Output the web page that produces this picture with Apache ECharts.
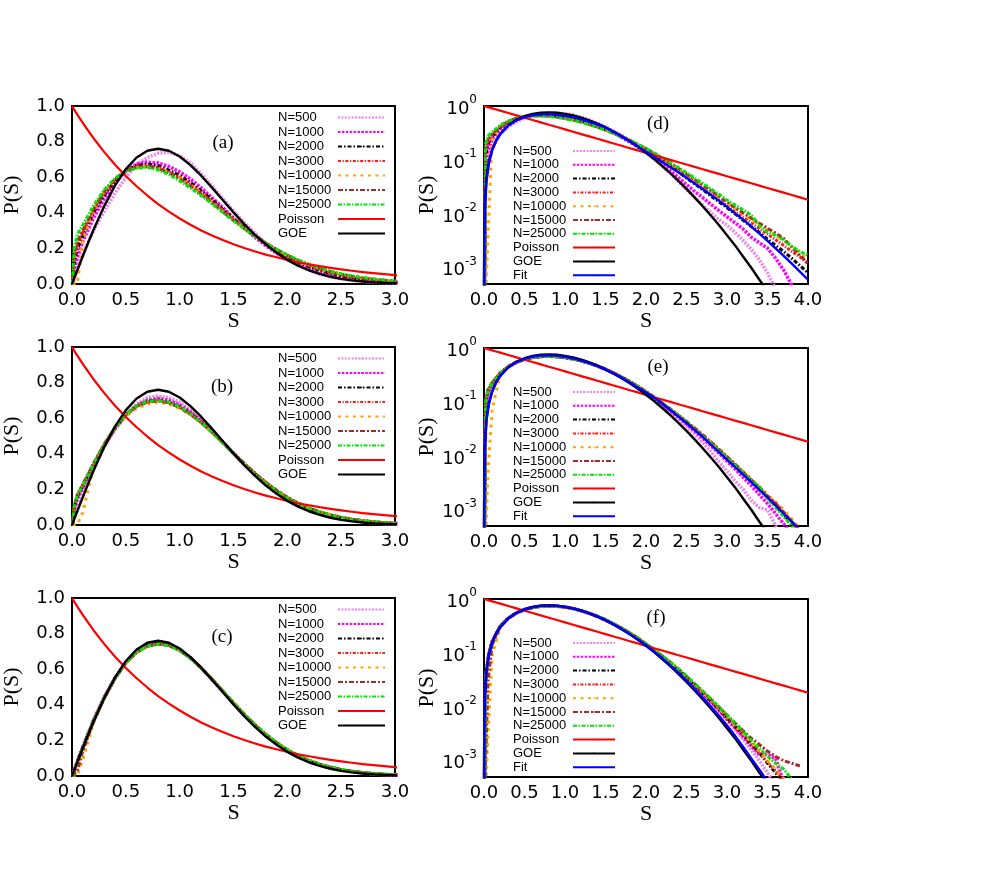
<!DOCTYPE html>
<html>
<head>
<meta charset="utf-8">
<script src="https://cdn.jsdelivr.net/npm/echarts@6/dist/echarts.min.js"></script>
<style>
html,body{margin:0;padding:0;background:#fff;}
#chart{width:997px;height:872px;}
</style>
</head>
<body>
<div id="chart"></div>
<script>
// ---------- data ----------
const NAMES = ['N=500','N=1000','N=2000','N=3000','N=10000','N=15000','N=25000'];
const X_TICKS_LIN = [0, 0.5, 1.0, 1.5, 2.0, 2.5, 3.0];
const Y_TICKS_LIN = [0, 0.2, 0.4, 0.6, 0.8, 1.0];
const Y_TICKS_LOG = [1e-3, 1e-2, 1e-1, 1];

// spacing grid of the measured histograms
const S = [0.005, 0.02, 0.05, 0.1, 0.2, 0.3, 0.4, 0.5, 0.6, 0.7, 0.8, 0.9, 1.0, 1.1, 1.2, 1.3, 1.4, 1.5, 1.6, 1.7, 1.8, 1.9, 2.0, 2.1, 2.2, 2.3, 2.4, 2.5, 2.6, 2.7, 2.8, 2.9, 3.0, 3.1, 3.2, 3.3, 3.4, 3.5, 3.6, 3.7, 3.8, 3.9, 4.0];

// row 1: panels (a) and (d)
const R1_N500   = [0.0002, 0.03, 0.08, 0.17, 0.30, 0.41, 0.51, 0.60, 0.67, 0.71, 0.735, 0.74, 0.72, 0.68, 0.62, 0.55, 0.48, 0.41, 0.345, 0.285, 0.23, 0.18, 0.14, 0.105, 0.078, 0.056, 0.04, 0.028, 0.02, 0.0145, 0.0105, 0.0078, 0.0062, 0.0045, 0.0032, 0.0022, 0.0014, 0.0008, 0.0004, null, null, null, null];
const R1_N1000  = [0.0002, 0.08, 0.15, 0.24, 0.37, 0.48, 0.57, 0.635, 0.675, 0.685, 0.68, 0.66, 0.63, 0.59, 0.54, 0.485, 0.43, 0.37, 0.315, 0.262, 0.215, 0.174, 0.138, 0.108, 0.083, 0.063, 0.047, 0.035, 0.026, 0.02, 0.015, 0.0115, 0.0088, 0.0068, 0.0052, 0.0037, 0.0029, 0.0023, 0.0015, 0.0009, 0.00048, 0.0002, null];
const R1_N2000  = [0.0002, 0.12, 0.2, 0.27, 0.40, 0.50, 0.58, 0.635, 0.665, 0.675, 0.665, 0.64, 0.61, 0.57, 0.525, 0.475, 0.42, 0.368, 0.318, 0.27, 0.226, 0.187, 0.153, 0.123, 0.098, 0.077, 0.06, 0.046, 0.036, 0.028, 0.0215, 0.0168, 0.013, 0.01, 0.0076, 0.0058, 0.0045, 0.0034, 0.0026, 0.002, 0.0015, 0.0011, 0.0008];
const R1_N3000  = [0.0002, 0.15, 0.22, 0.29, 0.41, 0.51, 0.585, 0.635, 0.66, 0.665, 0.655, 0.63, 0.6, 0.56, 0.515, 0.467, 0.415, 0.365, 0.317, 0.272, 0.23, 0.192, 0.158, 0.128, 0.103, 0.082, 0.064, 0.05, 0.039, 0.03, 0.0235, 0.0182, 0.0142, 0.011, 0.0086, 0.0068, 0.0053, 0.0042, 0.0033, 0.0026, 0.002, 0.0016, 0.0012];
const R1_N10000 = [0.0002, 0.0003, 0.004, 0.24, 0.42, 0.52, 0.59, 0.635, 0.655, 0.66, 0.65, 0.625, 0.595, 0.555, 0.51, 0.46, 0.41, 0.36, 0.314, 0.27, 0.23, 0.193, 0.16, 0.131, 0.106, 0.085, 0.067, 0.053, 0.042, 0.033, 0.026, 0.0205, 0.016, 0.0125, 0.0098, 0.0078, 0.0062, 0.005, 0.004, 0.0032, 0.0025, 0.0019, 0.0014];
const R1_N15000 = [0.0002, 0.17, 0.24, 0.3, 0.42, 0.52, 0.59, 0.635, 0.655, 0.66, 0.65, 0.625, 0.59, 0.55, 0.505, 0.456, 0.407, 0.358, 0.312, 0.269, 0.23, 0.194, 0.162, 0.133, 0.108, 0.087, 0.069, 0.055, 0.043, 0.034, 0.027, 0.021, 0.0165, 0.013, 0.0104, 0.0083, 0.0067, 0.0054, 0.0044, 0.0035, 0.0024, 0.0017, 0.0012];
const R1_N25000 = [0.0002, 0.2, 0.28, 0.33, 0.44, 0.53, 0.595, 0.635, 0.65, 0.655, 0.64, 0.615, 0.58, 0.54, 0.497, 0.45, 0.402, 0.355, 0.31, 0.268, 0.23, 0.195, 0.164, 0.136, 0.111, 0.09, 0.072, 0.058, 0.046, 0.037, 0.029, 0.023, 0.018, 0.0145, 0.0118, 0.0095, 0.006, 0.0046, 0.004, 0.0033, 0.0025, 0.002, 0.0017];

// row 2: panels (b) and (e)
const R2_N500   = [0.0002, 0.06, 0.12, 0.19, 0.32, 0.44, 0.54, 0.62, 0.68, 0.715, 0.725, 0.715, 0.69, 0.645, 0.59, 0.53, 0.465, 0.4, 0.338, 0.28, 0.228, 0.182, 0.143, 0.111, 0.085, 0.064, 0.048, 0.035, 0.0255, 0.0175, 0.012, 0.0078, 0.0052, 0.0034, 0.0024, 0.0015, 0.0011, 0.001, 0.0005, 0.0002, null, null, null];
const R2_N1000  = [0.0002, 0.08, 0.15, 0.21, 0.335, 0.445, 0.54, 0.615, 0.67, 0.7, 0.71, 0.7, 0.675, 0.635, 0.585, 0.527, 0.465, 0.402, 0.342, 0.285, 0.234, 0.188, 0.149, 0.117, 0.09, 0.069, 0.052, 0.039, 0.029, 0.0213, 0.0155, 0.0112, 0.008, 0.0057, 0.004, 0.0028, 0.0019, 0.0013, 0.00085, 0.00055, 0.00035, null, null];
const R2_N2000  = [0.0002, 0.1, 0.16, 0.22, 0.34, 0.45, 0.545, 0.62, 0.668, 0.695, 0.703, 0.69, 0.665, 0.627, 0.578, 0.523, 0.463, 0.402, 0.343, 0.287, 0.236, 0.191, 0.152, 0.12, 0.093, 0.072, 0.055, 0.0415, 0.031, 0.023, 0.017, 0.0125, 0.009, 0.0065, 0.0047, 0.0034, 0.0024, 0.0017, 0.0012, 0.0008, 0.00055, 0.00035, null];
const R2_N3000  = [0.0002, 0.11, 0.17, 0.23, 0.345, 0.455, 0.548, 0.62, 0.667, 0.692, 0.7, 0.688, 0.662, 0.624, 0.576, 0.522, 0.463, 0.403, 0.345, 0.29, 0.239, 0.194, 0.155, 0.122, 0.095, 0.073, 0.056, 0.0425, 0.032, 0.0238, 0.0176, 0.013, 0.0094, 0.0068, 0.0049, 0.0035, 0.0025, 0.0018, 0.0013, 0.0009, 0.0006, 0.0004, null];
const R2_N10000 = [0.0002, 0.0003, 0.005, 0.07, 0.33, 0.45, 0.54, 0.61, 0.655, 0.68, 0.69, 0.68, 0.655, 0.62, 0.573, 0.52, 0.462, 0.403, 0.346, 0.291, 0.24, 0.196, 0.157, 0.124, 0.097, 0.075, 0.058, 0.044, 0.033, 0.0246, 0.0182, 0.0135, 0.0098, 0.0071, 0.0051, 0.0037, 0.0027, 0.0019, 0.0014, 0.001, 0.00068, 0.00045, null];
const R2_N15000 = [0.0002, 0.1, 0.17, 0.225, 0.345, 0.455, 0.548, 0.62, 0.666, 0.69, 0.697, 0.686, 0.66, 0.622, 0.575, 0.522, 0.464, 0.404, 0.346, 0.291, 0.24, 0.195, 0.156, 0.123, 0.096, 0.074, 0.057, 0.0435, 0.0328, 0.0245, 0.0181, 0.0133, 0.0097, 0.007, 0.005, 0.0036, 0.0026, 0.0018, 0.0013, 0.0009, 0.0006, 0.0004, null];
const R2_N25000 = [0.0002, 0.1, 0.17, 0.22, 0.34, 0.45, 0.545, 0.62, 0.67, 0.695, 0.7, 0.69, 0.665, 0.625, 0.575, 0.52, 0.46, 0.4, 0.34, 0.285, 0.235, 0.19, 0.152, 0.12, 0.094, 0.073, 0.056, 0.043, 0.031, 0.0232, 0.0172, 0.0127, 0.0092, 0.0067, 0.0049, 0.0035, 0.0027, 0.0016, 0.0011, 0.00075, 0.0005, 0.0003, null];

// row 3: panels (c) and (f)
const R3_N500   = [0.0002, 0.035, 0.085, 0.165, 0.315, 0.445, 0.553, 0.64, 0.70, 0.733, 0.745, 0.738, 0.71, 0.666, 0.608, 0.543, 0.475, 0.407, 0.342, 0.282, 0.228, 0.181, 0.141, 0.108, 0.082, 0.061, 0.045, 0.0328, 0.0236, 0.0167, 0.0117, 0.0081, 0.0056, 0.0038, 0.0025, 0.0016, 0.001, 0.0006, 0.00035, null, null, null, null];
const R3_N1000  = [0.0002, 0.03, 0.08, 0.16, 0.31, 0.44, 0.55, 0.638, 0.698, 0.732, 0.745, 0.737, 0.708, 0.664, 0.607, 0.543, 0.475, 0.408, 0.343, 0.283, 0.23, 0.183, 0.143, 0.11, 0.084, 0.063, 0.047, 0.0343, 0.0248, 0.0177, 0.0125, 0.0087, 0.006, 0.0041, 0.0028, 0.0019, 0.0013, 0.0013, 0.0011, 0.0004, null, null, null];
const R3_N2000  = [0.0002, 0.03, 0.082, 0.162, 0.312, 0.442, 0.551, 0.638, 0.697, 0.731, 0.744, 0.736, 0.708, 0.664, 0.607, 0.543, 0.476, 0.409, 0.344, 0.284, 0.231, 0.184, 0.144, 0.111, 0.085, 0.064, 0.0475, 0.0348, 0.0252, 0.018, 0.0128, 0.009, 0.0062, 0.0043, 0.003, 0.002, 0.0014, 0.0009, 0.0006, 0.0004, null, null, null];
const R3_N3000  = [0.0002, 0.03, 0.08, 0.16, 0.31, 0.44, 0.55, 0.637, 0.696, 0.73, 0.742, 0.734, 0.706, 0.663, 0.607, 0.544, 0.477, 0.41, 0.345, 0.285, 0.232, 0.185, 0.145, 0.112, 0.086, 0.065, 0.048, 0.0352, 0.0255, 0.0183, 0.013, 0.0092, 0.0064, 0.0044, 0.0031, 0.0021, 0.0014, 0.00095, 0.00065, 0.00042, null, null, null];
const R3_N10000 = [0.0002, 0.0003, 0.003, 0.09, 0.3, 0.435, 0.548, 0.636, 0.695, 0.729, 0.741, 0.733, 0.705, 0.662, 0.606, 0.544, 0.477, 0.411, 0.346, 0.287, 0.234, 0.187, 0.147, 0.114, 0.087, 0.066, 0.049, 0.036, 0.026, 0.0188, 0.0134, 0.0095, 0.0066, 0.0046, 0.0032, 0.0022, 0.0015, 0.001, 0.0007, 0.00047, 0.0003, null, null];
const R3_N15000 = [0.0002, 0.001, 0.03, 0.14, 0.305, 0.438, 0.549, 0.636, 0.695, 0.729, 0.741, 0.733, 0.705, 0.662, 0.606, 0.544, 0.478, 0.412, 0.347, 0.288, 0.235, 0.188, 0.148, 0.115, 0.088, 0.067, 0.05, 0.0368, 0.0268, 0.0194, 0.0139, 0.0099, 0.007, 0.005, 0.0036, 0.0026, 0.002, 0.0015, 0.0012, 0.001, 0.0009, 0.0008, null];
const R3_N25000 = [0.0002, 0.03, 0.08, 0.16, 0.31, 0.44, 0.55, 0.636, 0.695, 0.729, 0.741, 0.733, 0.705, 0.662, 0.607, 0.545, 0.479, 0.413, 0.348, 0.289, 0.236, 0.189, 0.149, 0.116, 0.089, 0.068, 0.051, 0.0375, 0.0273, 0.0197, 0.0141, 0.01, 0.0071, 0.005, 0.0035, 0.0024, 0.0017, 0.0012, 0.0009, 0.0007, 0.00045, null, null];

// smooth reference curves (Poisson, GOE, fit)
const T_S = [0.0003, 0.003, 0.01, 0.03, 0.06, 0.1, 0.15, 0.2, 0.3, 0.4, 0.5, 0.6, 0.7, 0.8, 0.9, 1.0, 1.1, 1.2, 1.3, 1.4, 1.5, 1.6, 1.7, 1.8, 1.9, 2.0, 2.1, 2.2, 2.3, 2.4, 2.5, 2.6, 2.7, 2.8, 2.9, 3.0, 3.1, 3.2, 3.3, 3.4, 3.5, 3.6, 3.7, 3.8, 3.9, 4.0];
const POISSON = [1.0, 0.997, 0.99, 0.97, 0.942, 0.905, 0.861, 0.819, 0.741, 0.670, 0.607, 0.549, 0.497, 0.449, 0.407, 0.368, 0.333, 0.301, 0.273, 0.247, 0.223, 0.202, 0.183, 0.165, 0.150, 0.135, 0.122, 0.111, 0.100, 0.0907, 0.0821, 0.0743, 0.0672, 0.0608, 0.055, 0.0498, 0.045, 0.0408, 0.0369, 0.0334, 0.0302, 0.0273, 0.0247, 0.0224, 0.0202, 0.0183];
const GOE = [0.00047, 0.0047, 0.0157, 0.0471, 0.094, 0.1559, 0.2315, 0.3045, 0.4391, 0.5541, 0.6454, 0.7105, 0.7484, 0.7601, 0.7483, 0.7161, 0.668, 0.6083, 0.5416, 0.4717, 0.4024, 0.3365, 0.2759, 0.2219, 0.1753, 0.1358, 0.1034, 0.0772, 0.0567, 0.0409, 0.029, 0.0202, 0.0138, 0.0093, 0.0062, 0.004, 0.0026, 0.0016, 0.001, 0.0006, 0.00037, 0.00022, null, null, null, null];
const FIT_D = [0.0003, 0.003, 0.012, 0.04, 0.085, 0.15, 0.225, 0.3, 0.43, 0.54, 0.62, 0.675, 0.7, 0.7, 0.685, 0.655, 0.615, 0.565, 0.51, 0.455, 0.4, 0.331, 0.272, 0.221, 0.178, 0.141, 0.1135, 0.0912, 0.0733, 0.0589, 0.0468, 0.0367, 0.0288, 0.0226, 0.0176, 0.0135, 0.0102, 0.0078, 0.0058, 0.0043, 0.00316, 0.00229, 0.00166, 0.00119, 0.00085, 0.0006];
const FIT_E = [0.0003, 0.0035, 0.013, 0.045, 0.09, 0.155, 0.23, 0.305, 0.44, 0.55, 0.635, 0.695, 0.725, 0.73, 0.715, 0.685, 0.64, 0.585, 0.525, 0.463, 0.4, 0.339, 0.282, 0.229, 0.184, 0.151, 0.120, 0.0933, 0.0708, 0.0537, 0.0407, 0.0302, 0.0224, 0.0162, 0.0117, 0.0085, 0.00617, 0.00447, 0.00324, 0.00234, 0.0017, 0.0012, 0.00085, 0.0006, 0.00043, 0.0003];
const FIT_F = [0.0003, 0.0045, 0.015, 0.046, 0.092, 0.153, 0.228, 0.3, 0.435, 0.55, 0.642, 0.707, 0.745, 0.757, 0.746, 0.715, 0.668, 0.609, 0.543, 0.474, 0.405, 0.339, 0.279, 0.225, 0.178, 0.139, 0.106, 0.08, 0.059, 0.0428, 0.0306, 0.0215, 0.0149, 0.0101, 0.0068, 0.0045, 0.0029, 0.0018, 0.0011, 0.00068, 0.00041, 0.00024, null, null, null, null];

const ROWS = [
  [R1_N500, R1_N1000, R1_N2000, R1_N3000, R1_N10000, R1_N15000, R1_N25000],
  [R2_N500, R2_N1000, R2_N2000, R2_N3000, R2_N10000, R2_N15000, R2_N25000],
  [R3_N500, R3_N1000, R3_N2000, R3_N3000, R3_N10000, R3_N15000, R3_N25000]
];
const FITS = [FIT_D, FIT_E, FIT_F];
const PANEL_LABELS = [['(a)','(d)'],['(b)','(e)'],['(c)','(f)']];

// ---------- styles ----------
const DATA_STYLES = [
  {color:'#ee82ee', type:[2,1.4], width:3.5},
  {color:'#ff00ff', type:[2.5,1.4], width:3.5},
  {color:'#000000', type:[4,2,1.5,2], width:3},
  {color:'#ff1a1a', type:[3,1.6,1.2,1.6], width:3},
  {color:'#ffa500', type:[3,4.5], width:3},
  {color:'#a52a2a', type:[5,2,2,2], width:3},
  {color:'#00e600', type:[4,1.5,1.5,1.5], width:3}
];
const POISSON_STYLE = {color:'#ff0000', type:'solid', width:2.2};
const GOE_STYLE = {color:'#000000', type:'solid', width:2.4};
const FIT_STYLE = {color:'#0000ff', type:'solid', width:2.4};

const LEFT_X = 71, RIGHT_X = 484, PW = 324, PH = 178;
const TOPS = [[106,106],[347,348],[598,599]];
const LABEL_POS = [[[223,143],[658,124]],[[222,387],[658,367]],[[222,637],[656,618]]];
const LEG_TOPS = [[111,144.5],[352,385.5],[603,636.5]];

const chart = echarts.init(document.getElementById('chart'), null, {renderer:'canvas'});

const grids = [], xAxes = [], yAxes = [], series = [], legends = [], graphics = [];
const tickFont = 'DejaVu Sans';
const serif = 'Liberation Serif';

function toData(xs, ys) {
  return xs.map((s, i) => [s, ys[i] == null ? '-' : ys[i]]);
}
function lineSeries(name, xs, ys, idx, st) {
  return {
    type:'line', name, xAxisIndex: idx, yAxisIndex: idx,
    data: toData(xs, ys), symbol:'none', showSymbol:false, clip:true,
    silent:true, animation:false,
    lineStyle:{color:st.color, width:st.width, type:st.type, cap:'butt', join:'round'},
    itemStyle:{color:st.color}
  };
}

for (let r = 0; r < 3; r++) {
  for (let c = 0; c < 2; c++) {
    const idx = grids.length;
    const isLog = c === 1;
    grids.push({left: isLog ? RIGHT_X : LEFT_X, top: TOPS[r][c], width: PW, height: PH,
      show:true, borderColor:'#000', borderWidth:2, backgroundColor:'transparent', containLabel:false});
    xAxes.push({
      gridIndex: idx, type:'value', min:0, max: isLog ? 4 : 3, interval:0.5,
      axisLine:{show:false}, axisTick:{show:false}, splitLine:{show:false},
      axisLabel:{formatter: v => v.toFixed(1), fontFamily: tickFont, fontSize:18, color:'#000', margin:7},
      name:'S', nameLocation:'middle', nameGap:18,
      nameTextStyle:{fontFamily: serif, fontSize:22, color:'#000'}
    });
    if (isLog) {
      yAxes.push({
        gridIndex: idx, type:'log', logBase:10, min:5e-4, max:1,
        axisLine:{show:false}, axisTick:{show:false}, splitLine:{show:false}, minorTick:{show:false},
        axisLabel:{
          margin:7,
          formatter: v => {
            const l = Math.log10(v); const e = Math.round(l);
            if (Math.abs(l - e) > 1e-6) return '';
            return '{b|10}{s|' + e + '}';
          },
          rich:{
            b:{fontFamily: tickFont, fontSize:18, color:'#000', lineHeight:24, verticalAlign:'bottom'},
            s:{fontFamily: tickFont, fontSize:12, color:'#000', lineHeight:24, verticalAlign:'top'}
          }
        },
        name:'P(S)', nameLocation:'middle', nameGap:40,
        nameTextStyle:{fontFamily: serif, fontSize:22, color:'#000'}
      });
    } else {
      yAxes.push({
        gridIndex: idx, type:'value', min:0, max:1, interval:0.2,
        axisLine:{show:false}, axisTick:{show:false}, splitLine:{show:false},
        axisLabel:{formatter: v => v.toFixed(1), fontFamily: tickFont, fontSize:18, color:'#000', margin:7},
        name:'P(S)', nameLocation:'middle', nameGap:49,
        nameTextStyle:{fontFamily: serif, fontSize:22, color:'#000'}
      });
    }
    const rows = ROWS[r];
    for (let k = 0; k < NAMES.length; k++) {
      series.push(lineSeries(NAMES[k], S, rows[k], idx, DATA_STYLES[k]));
    }
    series.push(lineSeries('Poisson', T_S, POISSON, idx, POISSON_STYLE));
    series.push(lineSeries('GOE', T_S, GOE, idx, GOE_STYLE));
    if (isLog) series.push(lineSeries('Fit', T_S, FITS[r], idx, FIT_STYLE));

    const names = NAMES.concat(['Poisson','GOE']).concat(isLog ? ['Fit'] : []);
    const lh = isLog ? 13 : 14;
    const gap = isLog ? 0.8 : 1.5;
    legends.push({
      left: isLog ? 513 : 278, top: LEG_TOPS[r][c], orient:'vertical', padding:0,
      itemGap: gap, itemWidth: isLog ? 42 : 47, itemHeight: 2, align:'right',
      selectedMode:false, data: names,
      formatter: n => '{t|' + n + '}',
      textStyle:{color:'#000', fontFamily:'Liberation Sans', fontSize:13,
        rich:{t:{width:55, align:'left', fontSize:13, lineHeight: lh, fontFamily:'Liberation Sans', color:'#000'}}}
    });
    graphics.push({type:'text', x: LABEL_POS[r][c][0], y: LABEL_POS[r][c][1], silent:true,
      style:{text: PANEL_LABELS[r][c], fontFamily: serif, fontSize:19, fill:'#000', align:'center', verticalAlign:'middle'}});
  }
}

chart.setOption({
  backgroundColor:'#ffffff',
  animation:false,
  grid: grids, xAxis: xAxes, yAxis: yAxes, series: series, legend: legends, graphic: graphics
});
</script>
</body>
</html>
